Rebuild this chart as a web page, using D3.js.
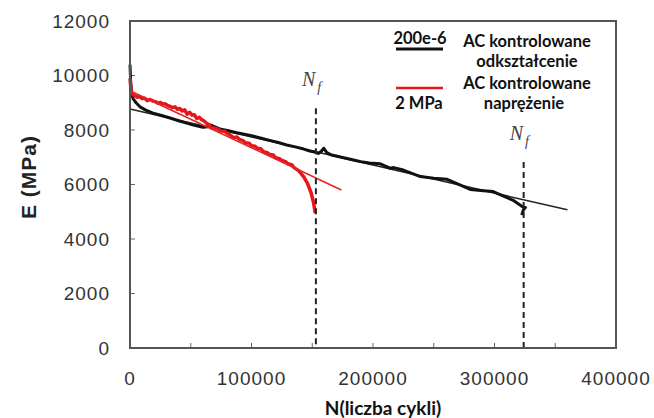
<!DOCTYPE html>
<html>
<head>
<meta charset="utf-8">
<script src="https://cdn.jsdelivr.net/npm/d3@7"></script>
<style>
body { margin: 0; background: #fff; }
svg { display: block; }
</style>
</head>
<body>
<div id="chart"></div>
<script>
// axis ticks
var xTicks = [0, 100000, 200000, 300000, 400000];
var xMinorTicks = [50000, 100000, 150000, 200000, 250000, 300000, 350000];
var yTicks = [0, 2000, 4000, 6000, 8000, 10000, 12000];

// strain controlled (200e-6), black
var strainN = [0, 500, 1200, 2500, 5000, 8200, 13000, 19000, 26000, 33000, 40000, 46700, 53000, 60000, 64000, 66500, 69000, 74000, 81000, 88000, 95000, 101000, 108000, 115000, 122000, 129000, 136000, 143000, 148000, 152000, 155000, 157500, 159500, 162000, 166000, 175000, 184000, 190000, 197000, 206000, 214000, 217000, 225000, 239000, 250000, 261000, 272000, 280000, 291000, 299000, 305000, 315000, 321000, 324000, 325500, 323700, 322400];
var strainE = [10400, 9800, 9400, 9150, 9000, 8850, 8730, 8620, 8530, 8440, 8340, 8250, 8170, 8100, 8120, 8180, 8130, 8040, 7970, 7900, 7840, 7780, 7700, 7620, 7540, 7450, 7380, 7300, 7230, 7190, 7140, 7220, 7330, 7170, 7080, 6990, 6900, 6840, 6790, 6760, 6600, 6620, 6530, 6290, 6230, 6190, 5980, 5820, 5770, 5740, 5620, 5430, 5250, 5160, 5160, 5060, 4880];

// stress controlled (2 MPa), red
var stressN = [0, 600, 1500, 3000, 6000, 8000, 10000, 12000, 14000, 16500, 19000, 21000, 23000, 25000, 27000, 29000, 31000, 33000, 35000, 37000, 39000, 41000, 43000, 45000, 47000, 49000, 51000, 53000, 55000, 57000, 59000, 61000, 63000, 65000, 67000, 71000, 75000, 78000, 80000, 83000, 85000, 88000, 90000, 93000, 95000, 98000, 100000, 103000, 105000, 108000, 110000, 113000, 115000, 118000, 120000, 123000, 125000, 128000, 130000, 133000, 135000, 139000, 143000, 146000, 149000, 151000, 152500];
var stressE = [9900, 9600, 9350, 9280, 9200, 9230, 9150, 9170, 9080, 9120, 9060, 9040, 8980, 9010, 8950, 8960, 8900, 8870, 8820, 8850, 8760, 8790, 8700, 8740, 8580, 8650, 8550, 8560, 8420, 8470, 8380, 8330, 8250, 8190, 8080, 8060, 7960, 7950, 7880, 7800, 7720, 7740, 7650, 7610, 7530, 7510, 7420, 7400, 7330, 7300, 7200, 7170, 7100, 7080, 6980, 6950, 6880, 6840, 6760, 6730, 6620, 6500, 6280, 6050, 5700, 5350, 4950];

// linear fits
var strainFitN = [0, 360000];
var strainFitE = [8770, 5070];
var stressFitN = [0, 174000];
var stressFitE = [9440, 5800];

// fatigue life markers
var nfN = [153000, 324000];
var nfTopE = [8800, 6830];

var width = 654, height = 418;

var svg = d3.select("#chart").append("svg")
	.attr("width", width)
	.attr("height", height);

var x = d3.scaleLinear().domain([0, 400000]).range([130, 616]);
var y = d3.scaleLinear().domain([0, 12000]).range([348, 21]);

// Y tick labels
svg.append("g").selectAll("text")
	.data(yTicks).enter().append("text")
	.attr("x", 110)
	.attr("y", function(d) { return y(d); })
	.attr("dy", "0.36em")
	.attr("text-anchor", "end")
	.style("font-family", "'Liberation Sans', Arial, sans-serif")
	.style("font-size", "19px")
	.style("letter-spacing", "1px")
	.style("fill", "#333")
	.text(function(d) { return d; });

// X tick labels
svg.append("g").selectAll("text")
	.data(xTicks).enter().append("text")
	.attr("x", function(d) { return x(d); })
	.attr("y", 378)
	.attr("dy", "0.36em")
	.attr("text-anchor", "middle")
	.style("font-family", "'Liberation Sans', Arial, sans-serif")
	.style("font-size", "19px")
	.style("letter-spacing", "1px")
	.style("fill", "#333")
	.text(function(d) { return d; });

// inner tick marks
svg.append("g").selectAll("line")
	.data(yTicks).enter().append("line")
	.attr("x1", x(0)).attr("x2", x(0) + 5)
	.attr("y1", function(d) { return y(d); })
	.attr("y2", function(d) { return y(d); })
	.style("stroke", "#666").style("stroke-width", 1);

svg.append("g").selectAll("line")
	.data(xMinorTicks).enter().append("line")
	.attr("x1", function(d) { return x(d); })
	.attr("x2", function(d) { return x(d); })
	.attr("y1", y(0)).attr("y2", y(0) - 5)
	.style("stroke", "#666").style("stroke-width", 1);

// axis titles
svg.append("text")
	.attr("transform", "translate(36,177) rotate(-90)")
	.attr("text-anchor", "middle")
	.style("font-family", "'Liberation Sans', Arial, sans-serif")
	.style("font-weight", "bold")
	.style("font-size", "21px")
	.style("letter-spacing", "1px")
	.style("fill", "#222")
	.text("E (MPa)");

svg.append("text")
	.attr("x", 383)
	.attr("y", 415)
	.attr("text-anchor", "middle")
	.style("font-family", "Lato, sans-serif")
	.style("font-weight", "bold")
	.style("font-size", "19px")
	.style("fill", "#111")
	.text("N(liczba cykli)");

var line = d3.line()
	.x(function(d) { return x(d[0]); })
	.y(function(d) { return y(d[1]); });

function pairs(a, b) { return a.map(function(v, i) { return [v, b[i]]; }); }

// fits and data
svg.append("path")
	.attr("d", line(pairs(strainFitN, strainFitE)))
	.style("fill", "none").style("stroke", "#222").style("stroke-width", 1.5);

svg.append("path")
	.attr("d", line(pairs(strainN, strainE)))
	.style("fill", "none").style("stroke", "#111").style("stroke-width", 3)
	.style("stroke-linejoin", "round");

svg.append("path")
	.attr("d", line(pairs(stressN, stressE)))
	.style("fill", "none").style("stroke", "#e8161b").style("stroke-width", 3.5)
	.style("stroke-linejoin", "round");

svg.append("path")
	.attr("d", line(pairs(stressFitN, stressFitE)))
	.style("fill", "none").style("stroke", "#e0262a").style("stroke-width", 1.5);

// Nf dashed lines
var nf = svg.append("g").selectAll("g")
	.data(pairs(nfN, nfTopE)).enter().append("g");

nf.append("line")
	.attr("x1", function(d) { return x(d[0]); })
	.attr("x2", function(d) { return x(d[0]); })
	.attr("y1", function(d) { return y(d[1]); })
	.attr("y2", y(0))
	.style("stroke", "#222").style("stroke-width", 2)
	.style("stroke-dasharray", "6,4");

var nfLabel = nf.append("text")
	.attr("x", function(d) { return x(d[0]) - 14; })
	.attr("y", function(d) { return y(d[1]) - 22; })
	.style("font-family", "'Liberation Serif', 'Times New Roman', serif")
	.style("font-style", "italic")
	.style("font-size", "20px")
	.style("fill", "#444");
nfLabel.append("tspan").text("N");
nfLabel.append("tspan")
	.attr("dx", 2).attr("dy", 6)
	.style("font-size", "14px")
	.text("f");

// frame
svg.append("rect")
	.attr("x", x(0)).attr("y", y(12000))
	.attr("width", x(400000) - x(0))
	.attr("height", y(0) - y(12000))
	.style("fill", "none").style("stroke", "#555").style("stroke-width", 2);

// legend
var legendFont = "Lato, 'Open Sans', sans-serif";
var legend = svg.append("g");

legend.append("line")
	.attr("x1", 396).attr("x2", 443).attr("y1", 49).attr("y2", 49)
	.style("stroke", "#111").style("stroke-width", 3);
legend.append("line")
	.attr("x1", 396).attr("x2", 443).attr("y1", 88).attr("y2", 88)
	.style("stroke", "#e8161b").style("stroke-width", 2.5);

var legendTexts = [
	{ t: "200e-6", x: 420, y: 38 },
	{ t: "2 MPa", x: 419, y: 103 },
	{ t: "AC kontrolowane", x: 527, y: 41 },
	{ t: "odkształcenie", x: 527, y: 61 },
	{ t: "AC kontrolowane", x: 527, y: 83 },
	{ t: "naprężenie", x: 524, y: 103 }
];

legend.selectAll("text")
	.data(legendTexts).enter().append("text")
	.attr("x", function(d) { return d.x; })
	.attr("y", function(d) { return d.y; })
	.attr("dy", "0.36em")
	.attr("text-anchor", "middle")
	.style("font-family", legendFont)
	.style("font-weight", "bold")
	.style("font-size", "16.5px")
	.style("fill", "#111")
	.text(function(d) { return d.t; });
</script>
</body>
</html>
